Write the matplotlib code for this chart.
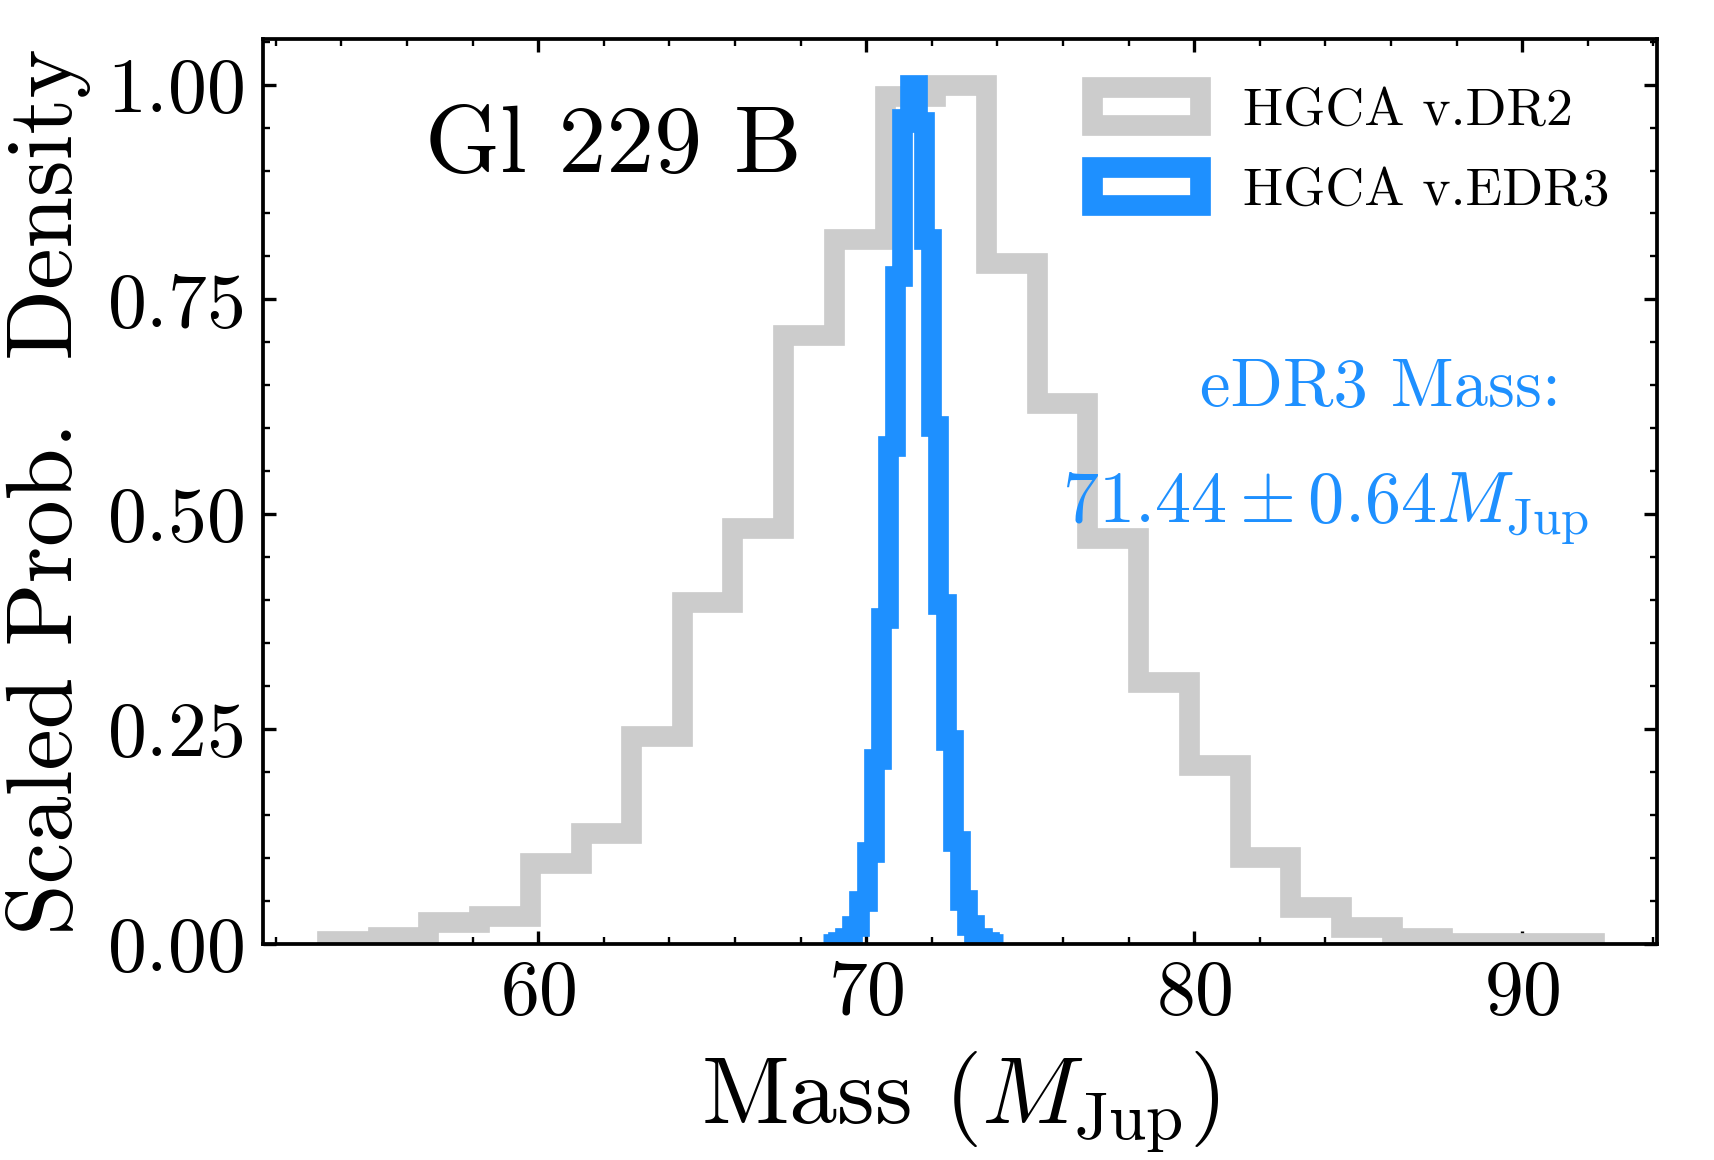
import matplotlib
matplotlib.use("Agg")
import matplotlib.pyplot as plt
from matplotlib.ticker import MultipleLocator

plt.rcParams['font.family'] = 'serif'
plt.rcParams['font.serif'] = ['cmr10', 'DejaVu Serif']
plt.rcParams['mathtext.fontset'] = 'cm'
plt.rcParams['axes.formatter.use_mathtext'] = True
plt.rcParams['axes.unicode_minus'] = False

# ---- data ----
dr2_edges = [53.56, 55.11, 56.65, 58.20, 59.74, 61.29, 62.83, 64.38, 65.92,
             67.47, 69.02, 70.56, 72.11, 73.65, 75.20, 76.74, 78.29, 79.84,
             81.38, 82.93, 84.47, 86.02, 87.56, 89.11, 90.65, 92.20]
dr2_heights = [0.004, 0.009, 0.026, 0.033, 0.095, 0.129, 0.242, 0.398, 0.484,
               0.709, 0.820, 0.987, 1.000, 0.792, 0.630, 0.472, 0.305, 0.208,
               0.102, 0.043, 0.020, 0.007, 0.002, 0.001, 0.0015]

edr3_edges = [68.69, 68.91, 69.13, 69.35, 69.57, 69.79, 70.01, 70.23, 70.45,
              70.67, 70.88, 71.10, 71.32, 71.54, 71.76, 71.98, 72.20, 72.42,
              72.64, 72.86, 73.08, 73.30, 73.52, 73.74, 73.96, 74.18]
edr3_heights = [0.0008, 0.0008, 0.0023, 0.0069, 0.021, 0.050, 0.107, 0.216,
                0.379, 0.580, 0.777, 0.960, 1.000, 0.956, 0.820, 0.603, 0.396,
                0.237, 0.120, 0.052, 0.022, 0.0073, 0.0027, 0.0008, 0.0008]

labels = ['HGCA v.DR2', 'HGCA v.EDR3']
colors = ['#cccccc', '#1e90ff']
yticks = [0.0, 0.25, 0.5, 0.75, 1.0]
xticks = [60, 70, 80, 90]

# ---- figure ----
fig = plt.figure(figsize=(17.15, 11.6), dpi=100)
ax = fig.add_axes([0.1534, 0.186, 0.8130, 0.7804])

lw = 14.9
ax.hist(dr2_edges[:-1], bins=dr2_edges, weights=dr2_heights, histtype='step',
        color=colors[0], lw=lw, label=labels[0])
ax.hist(edr3_edges[:-1], bins=edr3_edges, weights=edr3_heights, histtype='step',
        color=colors[1], lw=lw, label=labels[1])

ax.set_yticks(yticks)
ax.set_xticks(xticks)
ax.xaxis.set_minor_locator(MultipleLocator(2))
ax.yaxis.set_minor_locator(MultipleLocator(0.05))
ax.set_ylim(0, 1.053)
ax.set_xlim(51.61, 94.12)

for s in ax.spines.values():
    s.set_linewidth(2.7)
ax.tick_params(which='both', direction='in', top=True, right=True)
ax.tick_params(which='major', length=9.6, width=2.4, labelsize=56)
ax.tick_params(which='minor', length=5, width=1.7)
ax.tick_params(axis='x', which='major', pad=11)
ax.tick_params(axis='y', which='major', pad=14)

ax.set_xlabel(r'Mass ($M_{\rm Jup}$)', fontsize=69, labelpad=15)
ax.set_ylabel(r'Scaled Prob.  Density', fontsize=67, labelpad=11)

ax.text(0.116, 0.8534, 'Gl 229 B', transform=ax.transAxes, fontsize=69,
        ha='left', va='baseline')
ax.text(0.672, 0.5946, 'eDR3 Mass:', transform=ax.transAxes, fontsize=49.5,
        color=colors[1], ha='left', va='baseline')
ax.text(0.5733, 0.4657, r'$71.44 \pm 0.64 M_{\rm Jup}$', transform=ax.transAxes,
        fontsize=52, color=colors[1], ha='left', va='baseline')

ax.legend(loc='upper right', frameon=False, fontsize=38.7, labelspacing=0.6)

fig.savefig('out.png', dpi=100)
